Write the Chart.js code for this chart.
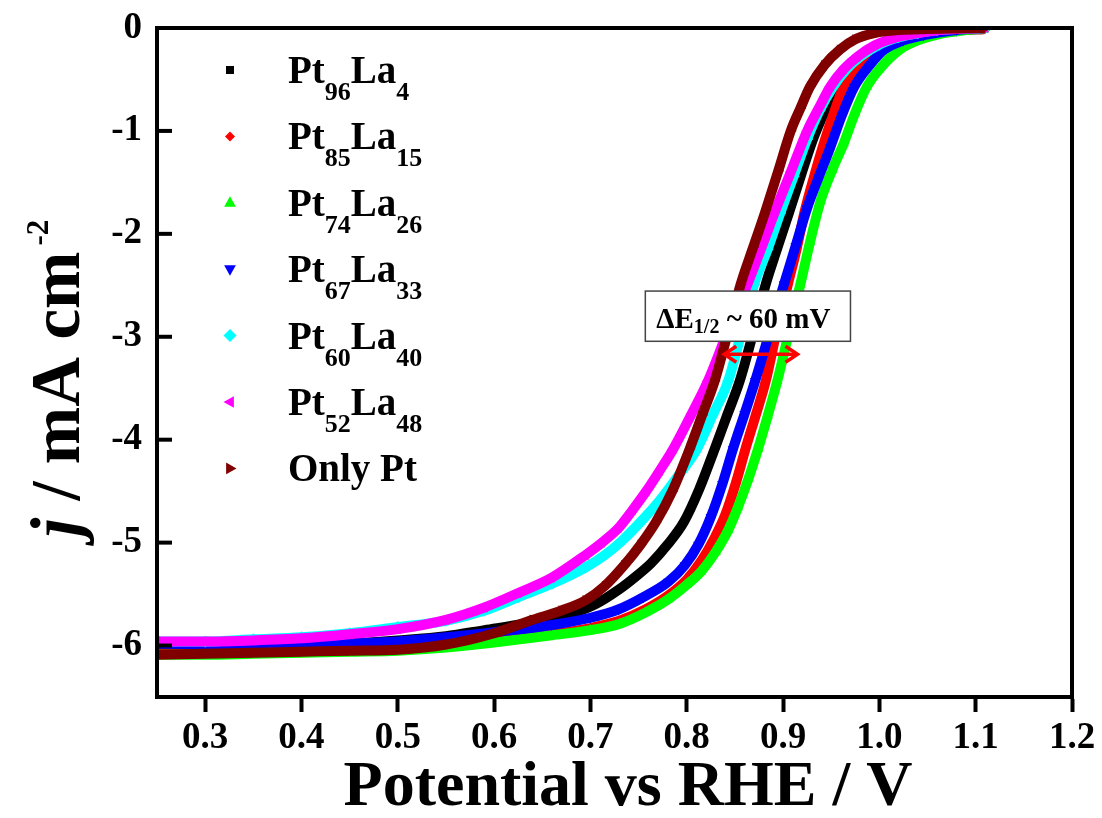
<!DOCTYPE html>
<html><head><meta charset="utf-8">
<script src="https://cdn.jsdelivr.net/npm/chart.js@4/dist/chart.umd.min.js"></script>
<style>html,body{margin:0;padding:0;background:#fff}#wrap{width:1102px;height:818px;position:relative}</style>
</head><body><div id="wrap"><canvas id="c" width="1102" height="818"></canvas></div>
<script>
// ---- data ----
const seriesNames = ['Pt96La4','Pt85La15','Pt74La26','Pt67La33','Pt60La40','Pt52La48','Only Pt'];
const legendParts = [
  [['Pt',0],['96',1],['La',0],['4',1]],
  [['Pt',0],['85',1],['La',0],['15',1]],
  [['Pt',0],['74',1],['La',0],['26',1]],
  [['Pt',0],['67',1],['La',0],['33',1]],
  [['Pt',0],['60',1],['La',0],['40',1]],
  [['Pt',0],['52',1],['La',0],['48',1]],
  [['Only Pt',0]]
];
const xTicks = [0.3,0.4,0.5,0.6,0.7,0.8,0.9,1.0,1.1,1.2];
const yTicks = [0,-1,-2,-3,-4,-5,-6];
const xTitle = 'Potential vs RHE / V';

const vPt96La4 = [0.25,0.30,0.35,0.40,0.45,0.50,0.55,0.59,0.63,0.677,0.705,0.729,0.747,0.763,0.78,0.797,0.813,0.829,0.842,0.855,0.869,0.882,0.894,0.906,0.919,0.932,0.944,0.956,0.970,0.984,1.0,1.02,1.05,1.08,1.11];
const jPt96La4 = [-6.02,-6.02,-6.01,-6.00,-5.98,-5.95,-5.91,-5.85,-5.79,-5.70,-5.60,-5.46,-5.33,-5.20,-5.02,-4.80,-4.48,-4.09,-3.76,-3.43,-2.96,-2.49,-2.14,-1.80,-1.42,-1.06,-0.80,-0.57,-0.42,-0.31,-0.20,-0.12,-0.05,-0.02,-0.01];

const vPt85La15 = [0.25,0.30,0.35,0.40,0.45,0.50,0.55,0.60,0.66,0.70,0.73,0.757,0.78,0.80,0.815,0.828,0.84,0.851,0.861,0.872,0.882,0.893,0.905,0.914,0.922,0.932,0.943,0.953,0.963,0.975,0.987,1.0,1.02,1.05,1.08,1.11];
const jPt85La15 = [-6.08,-6.08,-6.07,-6.06,-6.05,-6.04,-6.01,-5.96,-5.89,-5.83,-5.76,-5.65,-5.52,-5.36,-5.18,-4.97,-4.73,-4.42,-4.09,-3.75,-3.43,-2.96,-2.49,-2.15,-1.80,-1.45,-1.10,-0.82,-0.57,-0.40,-0.25,-0.16,-0.10,-0.04,-0.02,-0.01];

const vPt74La26 = [0.25,0.30,0.35,0.40,0.45,0.50,0.55,0.60,0.66,0.70,0.73,0.757,0.781,0.80,0.815,0.83,0.843,0.853,0.864,0.874,0.884,0.894,0.906,0.918,0.928,0.939,0.951,0.963,0.975,0.987,1.0,1.021,1.04,1.067,1.09,1.11];
const jPt74La26 = [-6.09,-6.09,-6.08,-6.07,-6.06,-6.05,-6.02,-5.97,-5.90,-5.85,-5.79,-5.68,-5.55,-5.41,-5.28,-5.09,-4.88,-4.66,-4.38,-4.09,-3.77,-3.43,-2.96,-2.49,-2.08,-1.68,-1.38,-1.12,-0.82,-0.57,-0.40,-0.21,-0.12,-0.05,-0.02,0];

const vPt67La33 = [0.25,0.30,0.35,0.40,0.45,0.50,0.55,0.60,0.66,0.70,0.729,0.755,0.781,0.798,0.812,0.825,0.837,0.848,0.86,0.871,0.886,0.901,0.913,0.925,0.937,0.949,0.961,0.974,0.99,1.005,1.025,1.046,1.08,1.11];
const jPt67La33 = [-5.98,-5.99,-6.00,-5.99,-5.98,-5.96,-5.92,-5.87,-5.80,-5.73,-5.65,-5.53,-5.38,-5.22,-5.02,-4.75,-4.43,-4.09,-3.75,-3.43,-2.96,-2.49,-2.12,-1.75,-1.45,-1.16,-0.85,-0.57,-0.36,-0.21,-0.12,-0.07,-0.02,0];

const vPt60La40 = [0.25,0.30,0.35,0.40,0.45,0.50,0.55,0.59,0.625,0.66,0.695,0.715,0.733,0.752,0.772,0.792,0.81,0.827,0.843,0.857,0.870,0.884,0.897,0.911,0.925,0.938,0.952,0.966,0.98,1.0,1.02,1.04,1.06,1.11];
const jPt60La40 = [-5.96,-5.96,-5.94,-5.92,-5.88,-5.82,-5.76,-5.66,-5.53,-5.40,-5.24,-5.12,-4.98,-4.80,-4.59,-4.34,-4.10,-3.76,-3.43,-2.95,-2.49,-2.15,-1.80,-1.44,-1.08,-0.80,-0.57,-0.40,-0.28,-0.16,-0.09,-0.05,-0.02,0];

const vPt52La48 = [0.25,0.30,0.35,0.40,0.45,0.50,0.55,0.59,0.625,0.66,0.695,0.712,0.729,0.744,0.758,0.772,0.786,0.805,0.822,0.842,0.863,0.877,0.891,0.908,0.925,0.937,0.949,0.963,0.977,0.995,1.018,1.04,1.063,1.11];
const jPt52La48 = [-5.96,-5.96,-5.95,-5.93,-5.89,-5.84,-5.75,-5.63,-5.49,-5.34,-5.12,-5.00,-4.86,-4.68,-4.50,-4.30,-4.09,-3.75,-3.43,-2.96,-2.49,-2.15,-1.80,-1.40,-1.00,-0.78,-0.57,-0.40,-0.28,-0.17,-0.09,-0.05,-0.02,0];

const vOnlyPt = [0.25,0.30,0.35,0.40,0.45,0.50,0.55,0.60,0.64,0.67,0.695,0.715,0.735,0.752,0.768,0.785,0.803,0.816,0.829,0.843,0.856,0.869,0.881,0.895,0.908,0.918,0.928,0.943,0.959,0.975,0.995,1.02,1.05,1.11];
const jOnlyPt = [-6.09,-6.08,-6.07,-6.06,-6.05,-6.04,-5.99,-5.88,-5.75,-5.66,-5.56,-5.42,-5.22,-5.02,-4.80,-4.50,-4.09,-3.76,-3.43,-2.95,-2.49,-2.13,-1.80,-1.39,-1.00,-0.78,-0.57,-0.36,-0.21,-0.11,-0.05,-0.02,-0.01,0];

// annotation (data coordinates)
const boxV = [0.757, 0.970];
const boxJ = [-2.556, -3.044];
const arrowV = [0.839, 0.915];
const arrowJ = -3.17;

// ---- styles ----
const colors = ['#000000','#ff0000','#00ff00','#0000ff','#00ffff','#ff00ff','#800000'];
const styles = [
  {ps:'rect', rot:0, r:4.5},
  {ps:'rectRot', rot:0, r:4.5},
  {ps:'triangle', rot:0, r:6},
  {ps:'triangle', rot:180, r:6},
  {ps:'rectRot', rot:0, r:6},
  {ps:'triangle', rot:270, r:6},
  {ps:'triangle', rot:90, r:6}
];
const xs = [vPt96La4,vPt85La15,vPt74La26,vPt67La33,vPt60La40,vPt52La48,vOnlyPt];
const ys = [jPt96La4,jPt85La15,jPt74La26,jPt67La33,jPt60La40,jPt52La48,jOnlyPt];
const SERIF = '"Liberation Serif","Times New Roman",serif';

const datasets = seriesNames.map((n,i)=>({
  label:n,
  data: xs[i].map((v,k)=>({x:v,y:ys[i][k]})),
  showLine:true,
  borderColor:colors[i],
  backgroundColor:colors[i],
  borderWidth:10,
  cubicInterpolationMode:'monotone',
  pointStyle:styles[i].ps,
  pointRotation:styles[i].rot,
  pointRadius:styles[i].r,
  pointBorderWidth:0,
  order: 6-i
}));

function drawMarker(ctx, st, color, x, y, r){
  ctx.save();
  ctx.translate(x,y);
  ctx.rotate(st.rot*Math.PI/180);
  ctx.fillStyle=color;
  ctx.beginPath();
  if(st.ps==='rect'){ ctx.rect(-r*0.8,-r*0.8,r*1.6,r*1.6); }
  else if(st.ps==='rectRot'){ ctx.moveTo(0,-r); ctx.lineTo(r,0); ctx.lineTo(0,r); ctx.lineTo(-r,0); ctx.closePath(); }
  else { ctx.moveTo(0,-r); ctx.lineTo(r*0.9,r*0.6); ctx.lineTo(-r*0.9,r*0.6); ctx.closePath(); }
  ctx.fill();
  ctx.restore();
}

const deco = {
  id:'deco',
  afterDraw(chart){
    const ctx = chart.ctx, a = chart.chartArea;
    const sx = chart.scales.x, sy = chart.scales.y;
    ctx.save();
    // frame
    ctx.strokeStyle='#000'; ctx.lineWidth=4;
    ctx.strokeRect(a.left,a.top,a.right-a.left,a.bottom-a.top);
    // inward y ticks
    yTicks.forEach(v=>{
      if (v===0) return;
      const p = sy.getPixelForValue(v);
      ctx.beginPath(); ctx.moveTo(a.left,p); ctx.lineTo(a.left+15,p); ctx.stroke();
    });
    // annotation box
    const bx1=sx.getPixelForValue(boxV[0]), bx2=sx.getPixelForValue(boxV[1]);
    const by1=sy.getPixelForValue(boxJ[0]), by2=sy.getPixelForValue(boxJ[1]);
    ctx.fillStyle='#fff'; ctx.fillRect(bx1,by1,bx2-bx1,by2-by1);
    ctx.strokeStyle='#444'; ctx.lineWidth=1.5; ctx.strokeRect(bx1,by1,bx2-bx1,by2-by1);
    ctx.fillStyle='#000'; ctx.textBaseline='alphabetic'; ctx.textAlign='left';
    let tx = bx1+11, tb = by1+37;
    ctx.font='bold 29px '+SERIF; ctx.fillText('\u0394E',tx,tb); tx+=ctx.measureText('\u0394E').width;
    ctx.font='bold 20px '+SERIF; ctx.fillText('1/2',tx,tb+5); tx+=ctx.measureText('1/2').width;
    ctx.font='bold 29px '+SERIF; ctx.fillText(' ~ 60 mV',tx,tb);
    // arrow
    const ax1=sx.getPixelForValue(arrowV[0]), ax2=sx.getPixelForValue(arrowV[1]), ay=sy.getPixelForValue(arrowJ);
    ctx.strokeStyle='#ff0000'; ctx.lineWidth=3.5;
    ctx.beginPath(); ctx.moveTo(ax1+2,ay); ctx.lineTo(ax2-2,ay); ctx.stroke();
    ctx.beginPath(); ctx.moveTo(ax1+12,ay-8); ctx.lineTo(ax1,ay); ctx.lineTo(ax1+12,ay+8); ctx.stroke();
    ctx.beginPath(); ctx.moveTo(ax2-12,ay-8); ctx.lineTo(ax2,ay); ctx.lineTo(ax2-12,ay+8); ctx.stroke();
    // legend
    legendParts.forEach((parts,i)=>{
      const my = 70 + i*66.4;
      drawMarker(ctx, styles[i], colors[i], 230, my, styles[i].r+0.5);
      let x = 288; const base = my+13;
      ctx.fillStyle='#000';
      parts.forEach(([t,sub])=>{
        ctx.font = sub ? 'bold 26px '+SERIF : 'bold 39px '+SERIF;
        ctx.fillText(t, x, sub ? base+17 : base);
        x += ctx.measureText(t).width;
      });
    });
    // x title
    ctx.font='bold 64px '+SERIF; ctx.textAlign='center';
    ctx.fillText(xTitle, 628, 805);
    ctx.textAlign='left';
    // y title
    ctx.save();
    ctx.translate(79, 537);
    ctx.rotate(-Math.PI/2);
    let yx = 0;
    ctx.font='italic bold 69px '+SERIF; ctx.fillText('j',yx,0); yx+=ctx.measureText('j').width;
    ctx.font='bold 69px '+SERIF; ctx.fillText(' / mA cm',yx,0); yx+=ctx.measureText(' / mA cm').width;
    ctx.font='bold 31px '+SERIF; ctx.fillText('-2',yx+6,-31);
    ctx.restore();
    ctx.restore();
  }
};

new Chart(document.getElementById('c'),{
  type:'scatter',
  data:{datasets},
  options:{
    responsive:false, animation:false, devicePixelRatio:1,
    layout:{padding:{top:28,right:30,left:0,bottom:0}},
    plugins:{legend:{display:false},tooltip:{enabled:false}},
    scales:{
      x:{type:'linear',min:0.25,max:1.2,
        afterBuildTicks:s=>{s.ticks=xTicks.map(v=>({value:v}));},
        afterFit:s=>{s.height=121; s.paddingLeft=0; s.paddingRight=0;},
        ticks:{callback:v=>Number(v).toFixed(1),font:{family:SERIF,weight:'bold',size:37},color:'#000',padding:4,maxRotation:0,autoSkip:false},
        grid:{display:true,drawOnChartArea:false,drawTicks:true,tickLength:15,tickWidth:4,tickColor:'#000'},
        border:{display:true,width:4,color:'#000'},
        title:{display:false}
      },
      y:{type:'linear',min:-6.5,max:0,
        afterBuildTicks:s=>{s.ticks=yTicks.map(v=>({value:v}));},
        afterFit:s=>{s.width=157; s.paddingTop=0; s.paddingBottom=0;},
        ticks:{callback:v=>String(v),font:{family:SERIF,weight:'bold',size:37},color:'#000',padding:15,autoSkip:false},
        grid:{display:true,drawOnChartArea:false,drawTicks:false},
        border:{display:true,width:4,color:'#000'}
      }
    }
  },
  plugins:[deco]
});
</script>
</body></html>
